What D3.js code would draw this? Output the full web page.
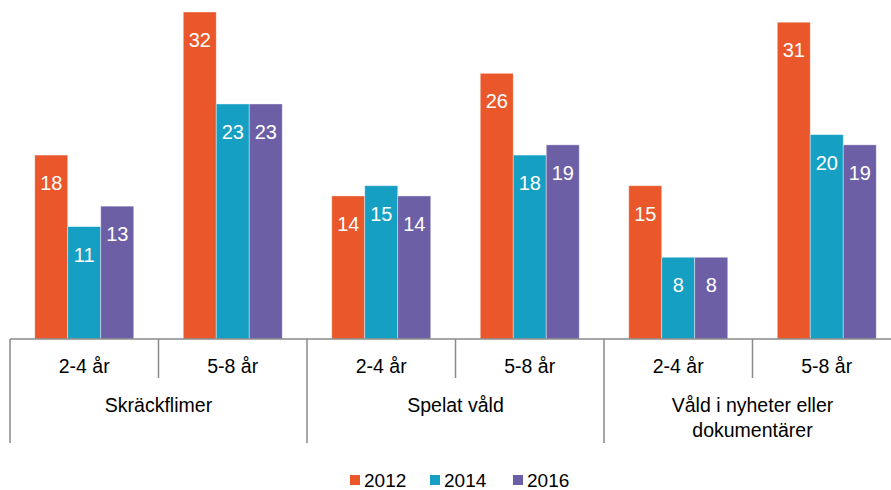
<!DOCTYPE html>
<html>
<head>
  <script src="https://d3js.org/d3.v7.min.js"></script>
  <meta charset='utf-8'>
  <title>Våld</title>
  <style>
    body { margin: 0; background: #fff; }
    text { font-family: "Liberation Sans", Arial, sans-serif; }
  </style>
</head>
<body>
  <div id="container"></div>
  <script>
  const width = 891, height = 490;

  const groups = ["Skräckflimer", "Spelat våld", "Våld i nyheter eller|dokumentärer"];
  const ages = ["2-4 år", "5-8 år"];
  const years = ["2012", "2014", "2016"];
  const colors = ["#E9572A", "#149FC3", "#6C5FA6"];
  // values per year, ordered group by group, age by age
  const v2012 = [18, 32, 14, 26, 15, 31];
  const v2014 = [11, 23, 15, 18, 8, 20];
  const v2016 = [13, 23, 14, 19, 8, 19];
  const series = [v2012, v2014, v2016];

  const svg = d3.select("#container").append("svg")
    .attr("width", width)
    .attr("height", height);

  const baseY = 339;
  const y = d3.scaleLinear().domain([0, 32]).range([baseY, 12]);

  const x0 = d3.scaleBand().domain(groups).range([10, 901]);
  const x1 = d3.scaleBand().domain(ages).range([0, x0.bandwidth()]);
  const x2 = d3.scaleBand().domain(years).range([0, x1.bandwidth()]).paddingOuter(0.75).paddingInner(0);

  const cells = [];
  groups.forEach((g, gi) => ages.forEach((a, ai) => {
    years.forEach((yr, yi) => {
      cells.push({g, a, yr, yi, v: series[yi][gi * 2 + ai]});
    });
  }));

  const bar = svg.selectAll("g.bar")
    .data(cells)
    .enter().append("g")
    .attr("class", "bar")
    .attr("transform", d => `translate(${x0(d.g) + x1(d.a) + x2(d.yr)},0)`);

  bar.append("rect")
    .attr("x", 0)
    .attr("width", x2.bandwidth())
    .attr("y", d => y(d.v))
    .attr("height", d => baseY - y(d.v))
    .attr("fill", d => colors[d.yi])
    .attr("stroke", "#fff")
    .attr("stroke-opacity", 0.5)
    .attr("stroke-width", 0.8);

  bar.append("text")
    .attr("x", x2.bandwidth() / 2)
    .attr("y", d => y(d.v) + 35)
    .attr("text-anchor", "middle")
    .attr("fill", "#fff")
    .attr("font-size", "20px")
    .text(d => d.v);

  // axis
  const axisColor = "#8a8a8a";
  svg.append("line")
    .attr("x1", 10).attr("x2", 901)
    .attr("y1", baseY).attr("y2", baseY)
    .attr("stroke", axisColor).attr("stroke-width", 1.5);

  groups.forEach(g => {
    svg.append("line")
      .attr("x1", x0(g)).attr("x2", x0(g))
      .attr("y1", baseY).attr("y2", 443)
      .attr("stroke", axisColor).attr("stroke-width", 1.5);
    svg.append("line")
      .attr("x1", x0(g) + x1(ages[1])).attr("x2", x0(g) + x1(ages[1]))
      .attr("y1", baseY).attr("y2", 378)
      .attr("stroke", axisColor).attr("stroke-width", 1.5);

    ages.forEach(a => {
      svg.append("text")
        .attr("x", x0(g) + x1(a) + x1.bandwidth() / 2)
        .attr("y", 373)
        .attr("text-anchor", "middle")
        .attr("font-size", "19.5px")
        .attr("fill", "#000")
        .text(a);
    });

    const lines = g.split("|");
    lines.forEach((l, li) => {
      svg.append("text")
        .attr("x", x0(g) + x0.bandwidth() / 2)
        .attr("y", 412 + li * 25)
        .attr("text-anchor", "middle")
        .attr("font-size", "19.5px")
        .attr("fill", "#000")
        .text(l);
    });
  });
  svg.append("line")
    .attr("x1", 901).attr("x2", 901)
    .attr("y1", baseY).attr("y2", 443)
    .attr("stroke", axisColor).attr("stroke-width", 1.5);

  // legend
  const legendX = [350, 430, 513];
  const legend = svg.selectAll("g.legend")
    .data(years)
    .enter().append("g")
    .attr("class", "legend")
    .attr("transform", (d, i) => `translate(${legendX[i]},475)`);
  legend.append("rect")
    .attr("width", 10).attr("height", 10)
    .attr("fill", (d, i) => colors[i]);
  legend.append("text")
    .attr("x", 14).attr("y", 12)
    .attr("font-size", "19px")
    .attr("fill", "#000")
    .text(d => d);
  </script>
</body>
</html>
